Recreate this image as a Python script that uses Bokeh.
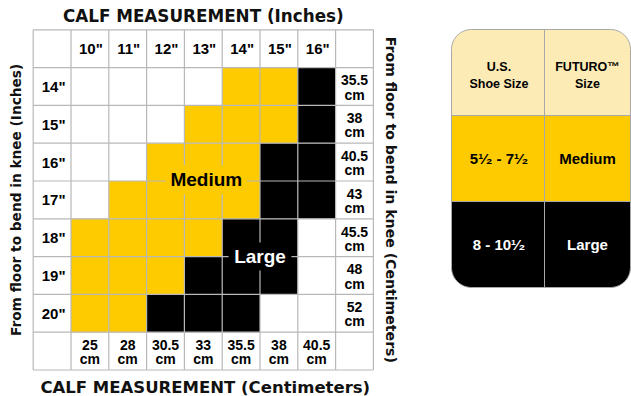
import math
from bokeh.plotting import figure
from bokeh.models import Range1d
from bokeh.core.properties import value
from bokeh.embed import file_html
from bokeh.resources import INLINE

# ---------------- data ----------------
calf_in = ['10"', '11"', '12"', '13"', '14"', '15"', '16"']
calf_cm = ["25", "28", "30.5", "33", "35.5", "38", "40.5"]
knee_in = ['14"', '15"', '16"', '17"', '18"', '19"', '20"']
knee_cm = ["35.5", "38", "40.5", "43", "45.5", "48", "52"]
# size for each (knee row, calf column): M = Medium, L = Large, "" = none
size_grid = [
    ["", "", "", "", "M", "M", "L"],
    ["", "", "", "M", "M", "M", "L"],
    ["", "", "M", "M", "M", "L", "L"],
    ["", "M", "M", "M", "M", "L", "L"],
    ["M", "M", "M", "M", "L", "L", ""],
    ["M", "M", "M", "L", "L", "L", ""],
    ["M", "M", "L", "L", "L", "", ""],
]
shoe_sizes = ["5\u00b9\u2044\u2082 - 7\u00b9\u2044\u2082", "8 - 10\u00b9\u2044\u2082"]
futuro_sizes = ["Medium", "Large"]
table_headers = ["U.S.\nShoe Size", "FUTURO\u2122\nSize"]

# ---------------- style ----------------
YELLOW = "#fecb00"
PALE = "#fdebb6"
BLACK = "#000000"
GRIDC = "#b8b8b8"
fill_for = {"M": YELLOW, "L": BLACK, "": "#ffffff"}
LAB = value("Liberation Sans")
TTL = value("DejaVu Sans")

W, H = 631, 396
p = figure(width=W, height=H, output_backend="svg", toolbar_location=None,
           x_range=Range1d(0, W), y_range=Range1d(H, 0), min_border=0)
p.axis.visible = False
p.grid.visible = False
p.outline_line_color = None
p.background_fill_color = "white"
p.border_fill_color = "white"

# grid geometry (pixels, y downward)
GX0, GY0, CELL = 32.7, 29.3, 37.8
NC = len(calf_in) + 2
NR = len(knee_in) + 2


def gx(c):
    return GX0 + c * CELL


def gy(r):
    return GY0 + r * CELL


# cells
cx, cy, cc = [], [], []
for r, row in enumerate(size_grid):
    for c, code in enumerate(row):
        cx.append(gx(c + 1.5))
        cy.append(gy(r + 1.5))
        cc.append(fill_for[code])
p.rect(x=cx, y=cy, width=CELL, height=CELL, fill_color=cc, line_color=None)

# grid lines
xs, ys = [], []
for i in range(NC + 1):
    xs.append([gx(i), gx(i)])
    ys.append([gy(0), gy(NR)])
for j in range(NR + 1):
    xs.append([gx(0), gx(NC)])
    ys.append([gy(j), gy(j)])
p.multi_line(xs=xs, ys=ys, line_color=GRIDC, line_width=1.2)

# header and side labels
common = dict(text_font=LAB, text_font_style="bold", text_align="center",
              text_baseline="middle", text_color="black")
p.text(x=[gx(c + 1.5) + 1 for c in range(len(calf_in))], y=[gy(0.5)] * len(calf_in),
       text=calf_in, text_font_size="15px", **common)
p.text(x=[gx(0.5) + 1.5] * len(knee_in), y=[gy(r + 1.5) for r in range(len(knee_in))],
       text=knee_in, text_font_size="15px", **common)
p.text(x=[gx(c + 1.5) for c in range(len(calf_cm))], y=[gy(NR - 0.5) + 1] * len(calf_cm),
       text=[v + "\ncm" for v in calf_cm], text_font_size="14px",
       text_line_height=0.9, **common)
p.text(x=[gx(NC - 0.5)] * len(knee_cm), y=[gy(r + 1.5) + 1 for r in range(len(knee_cm))],
       text=[v + "\ncm" for v in knee_cm], text_font_size="14px",
       text_line_height=0.9, **common)

# size region labels
lab_pos = {"Medium": (4.58, 3.97, 81, 29, YELLOW, "black"),
           "Large": (6.0, 6.0, 63, 28, BLACK, "white")}
for name in futuro_sizes:
    c, r, bw, bh, bg, fg = lab_pos[name]
    p.rect(x=[gx(c)], y=[gy(r)], width=bw, height=bh, fill_color=bg, line_color=None)
    p.text(x=[gx(c)], y=[gy(r)], text=[name], text_font=LAB, text_font_style="bold",
           text_font_size="19px", text_align="center", text_baseline="middle",
           text_color=fg)

# titles
ttl = dict(text_font=TTL, text_font_style="bold", text_align="center",
           text_baseline="middle", text_color="#111111")
p.text(x=[gx(NC / 2)], y=[15.5], text=["CALF MEASUREMENT (Inches)"],
       text_font_size="16.8px", **ttl)
p.text(x=[gx(NC / 2) + 2], y=[386.5], text=["CALF MEASUREMENT (Centimeters)"],
       text_font_size="16.5px", **ttl)
p.text(x=[15.5], y=[gy(NR / 2)], text=["From floor to bend in knee (Inches)"],
       angle=math.pi / 2, text_font_size="13.7px", **ttl)
p.text(x=[390], y=[gy(NR / 2)], text=["From floor to bend in knee (Centimeters)"],
       angle=-math.pi / 2, text_font_size="14.1px", **ttl)

# ---------------- right table ----------------
TX0, TXD, TX1 = 451, 544, 630
TY0, ROWH = 29, 86
RAD = 20


def rounded_box(x0, y0, x1, y1, rt, rb, n=12):
    pts = []
    corners = [((x0 + rt, y0 + rt), rt, 180, 270), ((x1 - rt, y0 + rt), rt, 270, 360),
               ((x1 - rb, y1 - rb), rb, 0, 90), ((x0 + rb, y1 - rb), rb, 90, 180)]
    for (ccx, ccy), rr, a0, a1 in corners:
        for k in range(n + 1):
            t = math.radians(a0 + (a1 - a0) * k / n)
            pts.append((ccx + rr * math.cos(t), ccy + rr * math.sin(t)))
    return [q[0] for q in pts], [q[1] for q in pts]


n_rows = 1 + len(shoe_sizes)
row_fills = [PALE, YELLOW, BLACK]
for i in range(n_rows):
    y0 = TY0 + i * ROWH
    rt = RAD if i == 0 else 0
    rb = RAD if i == n_rows - 1 else 0
    bx, by = rounded_box(TX0, y0, TX1, y0 + ROWH, rt, rb)
    p.patch(bx, by, fill_color=row_fills[i], line_color=None)

TY1 = TY0 + n_rows * ROWH
sx = [[TXD, TXD]] + [[TX0, TX1] for i in range(1, n_rows)]
sy = [[TY0, TY1]] + [[TY0 + i * ROWH, TY0 + i * ROWH] for i in range(1, n_rows)]
p.multi_line(xs=sx, ys=sy, line_color="#a8a8a8", line_width=1)
ox, oy = rounded_box(TX0, TY0, TX1, TY1, RAD, RAD)
p.patch(ox, oy, fill_color=None, line_color="#a8a8a8", line_width=1)

colc = [(TX0 + TXD) / 2 + 1, (TXD + TX1) / 2]
p.text(x=colc, y=[TY0 + ROWH / 2 + 3] * 2, text=table_headers, text_font=LAB,
       text_font_style="bold", text_font_size="12.5px", text_align="center",
       text_baseline="middle", text_color="black", text_line_height=1.15)
row_text_col = ["black", "white"]
for i, (shoe, fut) in enumerate(zip(shoe_sizes, futuro_sizes)):
    yc = TY0 + (i + 1.5) * ROWH
    p.text(x=colc, y=[yc, yc], text=[shoe, fut], text_font=LAB, text_font_style="bold",
           text_font_size="15px", text_align="center", text_baseline="middle",
           text_color=row_text_col[i])

open("out.html", "w").write(file_html(p, INLINE))
